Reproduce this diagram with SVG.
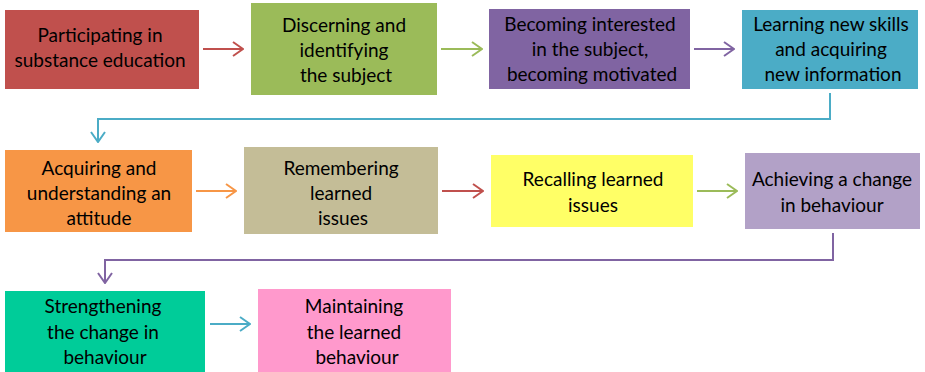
<svg xmlns="http://www.w3.org/2000/svg" width="925" height="372" viewBox="0 0 925 372">
<style>
text{font-family:Lato,"Liberation Sans",sans-serif;font-size:19px;fill:#000;text-anchor:middle}
.c{fill:none;stroke-width:2}
</style>
<defs>
<marker id="m" viewBox="0 0 12 16" refX="11" refY="8" markerWidth="12" markerHeight="16" markerUnits="userSpaceOnUse" orient="auto"><path d="M1,1 L11,8 L1,15" fill="none" stroke="context-stroke" stroke-width="2"/></marker>
<marker id="mr" viewBox="0 0 12 16" refX="11" refY="8" markerWidth="12" markerHeight="16" markerUnits="userSpaceOnUse" orient="auto"><path d="M1,1 L11,8 L1,15" fill="none" stroke="#C0504D" stroke-width="2"/></marker>
<marker id="mg" viewBox="0 0 12 16" refX="11" refY="8" markerWidth="12" markerHeight="16" markerUnits="userSpaceOnUse" orient="auto"><path d="M1,1 L11,8 L1,15" fill="none" stroke="#9BBB59" stroke-width="2"/></marker>
<marker id="mp" viewBox="0 0 12 16" refX="11" refY="8" markerWidth="12" markerHeight="16" markerUnits="userSpaceOnUse" orient="auto"><path d="M1,1 L11,8 L1,15" fill="none" stroke="#8064A2" stroke-width="2"/></marker>
<marker id="mc" viewBox="0 0 12 16" refX="11" refY="8" markerWidth="12" markerHeight="16" markerUnits="userSpaceOnUse" orient="auto"><path d="M1,1 L11,8 L1,15" fill="none" stroke="#4BACC6" stroke-width="2"/></marker>
<marker id="mo" viewBox="0 0 12 16" refX="11" refY="8" markerWidth="12" markerHeight="16" markerUnits="userSpaceOnUse" orient="auto"><path d="M1,1 L11,8 L1,15" fill="none" stroke="#F79646" stroke-width="2"/></marker>
</defs>
<g id="connectors">
<path class="c" d="M203,49 H243" stroke="#C0504D" marker-end="url(#mr)"/>
<path class="c" d="M441,49 H482" stroke="#9BBB59" marker-end="url(#mg)"/>
<path class="c" d="M694,49 H734" stroke="#8064A2" marker-end="url(#mp)"/>
<path class="c" d="M830,93 V119 H98 V142" stroke="#4BACC6" marker-end="url(#mc)"/>
<path class="c" d="M196,191 H236" stroke="#F79646" marker-end="url(#mo)"/>
<path class="c" d="M442,191 H483" stroke="#C0504D" marker-end="url(#mr)"/>
<path class="c" d="M697,191 H737" stroke="#9BBB59" marker-end="url(#mg)"/>
<path class="c" d="M833,233 V260 H105 V283" stroke="#8064A2" marker-end="url(#mp)"/>
<path class="c" d="M210,324 H250" stroke="#4BACC6" marker-end="url(#mc)"/>
</g>
<g id="n1"><rect x="5" y="10" width="194" height="79" fill="#C0504D"/><text x="100" y="42">Participating in</text><text x="100" y="67">substance education</text></g>
<g id="n2"><rect x="251" y="3" width="186" height="92" fill="#9BBB59"/><text x="344" y="32">Discerning and</text><text x="344" y="57">identifying</text><text x="346" y="82">the subject</text></g>
<g id="n3"><rect x="489" y="9" width="201" height="80" fill="#8064A2"/><text x="590" y="31">Becoming interested</text><text x="590" y="56">in the subject,</text><text x="592" y="81">becoming motivated</text></g>
<g id="n4"><rect x="742" y="10" width="176" height="79" fill="#4BACC6"/><text x="831" y="31">Learning new skills</text><text x="831" y="56">and acquiring</text><text x="833" y="81">new information</text></g>
<g id="n5"><rect x="5" y="150" width="187" height="82" fill="#F79646"/><text x="99" y="175">Acquiring and</text><text x="99" y="200">understanding an</text><text x="99" y="225">attitude</text></g>
<g id="n6"><rect x="244" y="147" width="194" height="87" fill="#C4BD97"/><text x="341" y="175">Remembering</text><text x="341" y="200">learned</text><text x="343" y="225">issues</text></g>
<g id="n7"><rect x="491" y="155" width="202" height="72" fill="#FFFF66"/><text x="593" y="186">Recalling learned</text><text x="593" y="212">issues</text></g>
<g id="n8"><rect x="745" y="153" width="175" height="76" fill="#B2A1C7"/><text x="832" y="186">Achieving a change</text><text x="832" y="212">in behaviour</text></g>
<g id="n9"><rect x="5" y="291" width="200" height="81" fill="#00CC99"/><text x="103" y="313">Strengthening</text><text x="103" y="339">the change in</text><text x="105" y="364">behaviour</text></g>
<g id="n10"><rect x="258" y="289" width="193" height="83" fill="#FF99CC"/><text x="354" y="313">Maintaining</text><text x="354" y="339">the learned</text><text x="357" y="364">behaviour</text></g>
</svg>
